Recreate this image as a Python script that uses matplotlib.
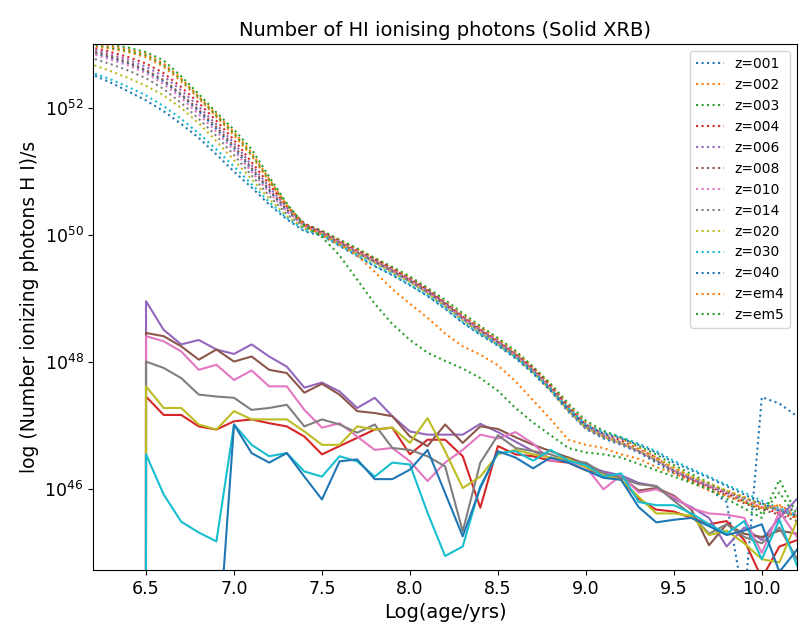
import numpy as np
import matplotlib
matplotlib.use("Agg")
import matplotlib.pyplot as plt
from matplotlib.ticker import NullLocator

# ---------------- data (log10 of photon rate) ----------------
labels = ["z=001", "z=002", "z=003", "z=004", "z=006", "z=008", "z=010",
          "z=014", "z=020", "z=030", "z=040", "z=em4", "z=em5"]

# stellar ages for the dotted curves: log(age) 6.0 ... 10.2
age_star = [6.0, 6.1, 6.2, 6.3, 6.4, 6.5, 6.6, 6.7, 6.8, 6.9, 7.0, 7.1, 7.2, 7.3, 7.4,
            7.5, 7.6, 7.7, 7.8, 7.9, 8.0, 8.1, 8.2, 8.3, 8.4, 8.5, 8.6, 8.7, 8.8, 8.9,
            9.0, 9.1, 9.2, 9.3, 9.4, 9.5, 9.6, 9.7, 9.8, 9.9, 10.0, 10.1, 10.2]

star_001 = [53.02, 52.95, 52.87, 52.79, 52.7, 52.58, 52.42, 52.2, 51.95, 51.67, 51.37, 51.03, 50.7, 50.38, 50.15,
            50.04, 49.88, 49.72, 49.58, 49.43, 49.27, 49.1, 48.9, 48.68, 48.48, 48.3, 48.08, 47.82, 47.55, 47.22,
            46.95, 46.8, 46.7, 46.58, 46.42, 46.25, 46.12, 46.0, 45.8, 44.2, 47.45, 47.35, 47.15]
star_002 = [53.1, 53.05, 52.98, 52.93, 52.88, 52.8, 52.65, 52.42, 52.15, 51.86, 51.57, 51.25, 50.85, 50.46, 50.17,
            50.06, 49.92, 49.78, 49.63, 49.48, 49.33, 49.15, 48.95, 48.74, 48.55, 48.36, 48.16, 47.92, 47.64, 47.32,
            47.05, 46.9, 46.8, 46.66, 46.5, 46.34, 46.2, 46.08, 45.98, 45.88, 45.7, 45.75, 45.6]
star_003 = [53.12, 53.07, 53.0, 52.95, 52.9, 52.83, 52.68, 52.45, 52.17, 51.88, 51.6, 51.27, 50.87, 50.47, 50.18,
            50.07, 49.93, 49.79, 49.64, 49.5, 49.35, 49.17, 48.98, 48.77, 48.57, 48.38, 48.18, 47.93, 47.66, 47.35,
            47.08, 46.92, 46.82, 46.68, 46.55, 46.38, 46.24, 46.1, 45.96, 45.82, 45.62, 45.95, 45.55]
star_004 = [53.1, 53.02, 52.95, 52.88, 52.8, 52.7, 52.55, 52.33, 52.08, 51.8, 51.5, 51.15, 50.8, 50.45, 50.18,
            50.05, 49.9, 49.76, 49.62, 49.47, 49.31, 49.14, 48.93, 48.72, 48.52, 48.33, 48.13, 47.9, 47.62, 47.3,
            47.02, 46.87, 46.77, 46.63, 46.5, 46.3, 46.16, 46.04, 45.93, 45.8, 45.72, 45.62, 45.55]
star_006 = [53.08, 53.0, 52.92, 52.84, 52.76, 52.65, 52.5, 52.28, 52.02, 51.74, 51.45, 51.1, 50.76, 50.43, 50.17,
            50.04, 49.89, 49.74, 49.6, 49.45, 49.3, 49.13, 48.93, 48.71, 48.51, 48.33, 48.12, 47.88, 47.6, 47.28,
            47.0, 46.86, 46.74, 46.6, 46.46, 46.28, 46.16, 46.05, 45.94, 45.86, 45.78, 45.68, 45.7]
star_008 = [53.05, 52.97, 52.89, 52.81, 52.72, 52.6, 52.44, 52.22, 51.97, 51.7, 51.4, 51.06, 50.72, 50.4, 50.16,
            50.03, 49.88, 49.73, 49.59, 49.44, 49.29, 49.12, 48.92, 48.7, 48.5, 48.32, 48.12, 47.87, 47.58, 47.26,
            46.98, 46.84, 46.73, 46.6, 46.45, 46.28, 46.15, 46.03, 45.9, 45.78, 45.68, 45.6, 45.5]
star_010 = [53.0, 52.93, 52.85, 52.76, 52.67, 52.55, 52.38, 52.16, 51.9, 51.63, 51.33, 51.0, 50.67, 50.37, 50.14,
            50.03, 49.88, 49.73, 49.58, 49.43, 49.28, 49.1, 48.9, 48.69, 48.49, 48.31, 48.1, 47.86, 47.57, 47.25,
            46.97, 46.83, 46.72, 46.6, 46.46, 46.3, 46.18, 46.06, 45.96, 45.84, 45.72, 45.68, 45.62]
star_014 = [52.95, 52.87, 52.78, 52.69, 52.59, 52.47, 52.3, 52.08, 51.83, 51.56, 51.26, 50.94, 50.62, 50.33, 50.12,
            50.02, 49.87, 49.72, 49.57, 49.42, 49.27, 49.09, 48.89, 48.68, 48.48, 48.3, 48.1, 47.85, 47.56, 47.24,
            46.96, 46.82, 46.72, 46.6, 46.45, 46.3, 46.18, 46.07, 45.95, 45.86, 45.76, 45.66, 45.58]
star_020 = [52.88, 52.78, 52.68, 52.58, 52.47, 52.35, 52.2, 52.0, 51.76, 51.48, 51.18, 50.88, 50.57, 50.3, 50.1,
            50.02, 49.86, 49.71, 49.56, 49.41, 49.26, 49.08, 48.88, 48.66, 48.46, 48.28, 48.08, 47.84, 47.56, 47.24,
            46.97, 46.83, 46.73, 46.62, 46.48, 46.33, 46.2, 46.1, 45.98, 45.87, 45.77, 45.66, 45.55]
star_030 = [52.72, 52.63, 52.55, 52.45, 52.33, 52.2, 52.03, 51.83, 51.6, 51.35, 51.08, 50.8, 50.52, 50.27, 50.08,
            50.0, 49.84, 49.68, 49.52, 49.38, 49.22, 49.05, 48.85, 48.63, 48.44, 48.27, 48.08, 47.85, 47.58, 47.28,
            47.02, 46.9, 46.82, 46.72, 46.6, 46.45, 46.32, 46.2, 46.07, 45.95, 45.82, 45.7, 45.6]
star_040 = [52.68, 52.6, 52.52, 52.4, 52.26, 52.12, 51.95, 51.75, 51.53, 51.27, 51.0, 50.75, 50.48, 50.25, 50.06,
            49.99, 49.83, 49.67, 49.51, 49.37, 49.21, 49.04, 48.84, 48.62, 48.43, 48.26, 48.06, 47.83, 47.56, 47.26,
            47.0, 46.88, 46.8, 46.7, 46.58, 46.42, 46.3, 46.18, 46.05, 45.92, 45.78, 45.66, 45.58]
star_em4 = [53.15, 53.1, 53.02, 52.97, 52.92, 52.85, 52.7, 52.46, 52.18, 51.9, 51.62, 51.3, 50.88, 50.47, 50.15,
            50.0, 49.85, 49.68, 49.42, 49.15, 48.92, 48.7, 48.45, 48.25, 48.12, 47.95, 47.7, 47.4, 47.1, 46.78,
            46.7, 46.65, 46.55, 46.48, 46.35, 46.25, 46.12, 45.98, 45.9, 45.8, 45.7, 45.75, 45.55]
star_em5 = [53.2, 53.12, 53.05, 53.0, 52.95, 52.88, 52.75, 52.5, 52.22, 51.93, 51.66, 51.35, 50.92, 50.5, 50.15,
            49.97, 49.68, 49.3, 48.92, 48.6, 48.35, 48.15, 48.02, 47.9, 47.75, 47.55, 47.28, 47.05, 46.85, 46.65,
            46.58, 46.55, 46.5, 46.4, 46.3, 46.2, 46.1, 46.0, 45.85, 45.7, 45.55, 46.15, 45.6]

star_series = [star_001, star_002, star_003, star_004, star_006, star_008, star_010,
               star_014, star_020, star_030, star_040, star_em4, star_em5]

# XRB contribution (solid): log(age) 6.4 ... 10.2 ; None = zero
age_xrb = [6.4, 6.5, 6.6, 6.7, 6.8, 6.9, 7.0, 7.1, 7.2, 7.3, 7.4, 7.5, 7.6, 7.7, 7.8, 7.9,
           8.0, 8.1, 8.2, 8.3, 8.4, 8.5, 8.6, 8.7, 8.8, 8.9, 9.0, 9.1, 9.2, 9.3, 9.4, 9.5,
           9.6, 9.7, 9.8, 9.9, 10.0, 10.1, 10.2]

xrb_004 = [None, 47.46, 47.17, 47.17, 46.99, 46.94, 47.07, 47.10, 47.04, 46.99, 46.83, 46.55, 46.68, 46.81, 46.94, 46.97,
           46.55, 46.78, 46.78, 46.52, 45.71, 46.68, 46.55, 46.52, 46.45, 46.42, 46.3, 46.25, 46.15, 45.85, 45.68, 45.65,
           45.55, 45.45, 45.5, 45.2, 44.6, 45.1, 45.2]
xrb_006 = [None, 48.96, 48.51, 48.28, 48.35, 48.20, 48.13, 48.28, 48.09, 47.93, 47.60, 47.68, 47.54, 47.28, 47.44, 47.15,
           46.91, 46.86, 46.86, 46.86, 47.03, 46.9, 46.75, 46.6, 46.48, 46.5, 46.38, 46.28, 46.22, 46.1, 46.05, 45.85,
           45.72, 45.55, 45.1, 45.4, 45.2, 45.55, 45.85]
xrb_008 = [None, 48.46, 48.41, 48.25, 48.04, 48.20, 48.01, 48.09, 47.88, 47.83, 47.52, 47.66, 47.49, 47.23, 47.20, 47.15,
           46.83, 46.68, 47.02, 46.73, 46.99, 46.95, 46.82, 46.7, 46.6, 46.5, 46.4, 46.2, 46.2, 45.98, 46.02, 45.9,
           45.68, 45.12, 45.45, 45.3, 45.25, 45.35, 45.3]
xrb_010 = [None, 48.41, 48.33, 48.17, 47.88, 47.96, 47.72, 47.87, 47.62, 47.62, 47.25, 46.97, 47.04, 46.83, 46.62, 46.65,
           46.44, 46.13, 46.42, 46.62, 46.86, 46.8, 46.9, 46.72, 46.45, 46.45, 46.35, 46.0, 46.22, 45.95, 46.0, 45.88,
           45.7, 45.62, 45.6, 45.55, 45.0, 45.65, 45.25]
xrb_014 = [None, 48.01, 47.91, 47.75, 47.49, 47.46, 47.44, 47.25, 47.28, 47.33, 46.99, 47.10, 47.02, 46.89, 47.02, 46.65,
           46.62, 46.52, 46.36, 45.34, 46.42, 46.85, 46.65, 46.6, 46.55, 46.45, 46.42, 46.25, 46.18, 46.08, 46.05, 45.82,
           45.6, 45.3, 45.45, 45.25, 45.15, 45.4, 44.9]
xrb_020 = [None, 47.62, 47.28, 47.28, 47.02, 46.94, 47.23, 47.10, 47.10, 47.10, 46.91, 46.70, 46.70, 46.99, 46.94, 46.97,
           46.73, 47.12, 46.60, 46.02, 46.20, 46.55, 46.62, 46.55, 46.5, 46.48, 46.35, 46.22, 46.15, 45.88, 45.62, 45.62,
           45.58, 45.28, 45.35, 45.15, 44.9, 44.85, 45.5]
xrb_030 = [None, 46.55, 45.92, 45.49, 45.32, 45.18, 47.02, 46.70, 46.52, 46.57, 46.28, 46.20, 46.52, 46.44, 46.20, 46.42,
           46.39, 45.63, 44.95, 45.10, 46.05, 46.57, 46.6, 46.45, 46.62, 46.45, 46.38, 46.2, 46.25, 45.8, 45.75, 45.75,
           45.62, 45.45, 45.3, 45.5, 44.9, 45.52, 44.8]
xrb_040 = [None, None, None, None, None, 43.07, 47.02, 46.57, 46.42, 46.57, 46.20, 45.84, 46.44, 46.47, 46.16, 46.16,
           46.31, 46.62, 45.94, 45.26, 46.02, 46.6, 46.5, 46.33, 46.5, 46.42, 46.3, 46.18, 46.15, 45.72, 45.48, 45.52,
           45.55, 45.42, 45.28, 45.35, 45.45, 44.7, 45.05]

xrb_series = [xrb_004, xrb_006, xrb_008, xrb_010, xrb_014, xrb_020, xrb_030, xrb_040]
xrb_colors = ["C3", "C4", "C5", "C6", "C7", "C8", "C9", "C0"]


def to_linear(logs):
    return np.array([0.0 if v is None else 10.0 ** v for v in logs])


# ---------------- plot ----------------
fig = plt.figure(figsize=(7.99, 6.32), dpi=100)
ax = fig.add_axes([0.1167, 0.0981, 0.8808, 0.8315])

for i, (lab, s) in enumerate(zip(labels, star_series)):
    ax.plot(age_star, to_linear(s), linestyle=":", color=f"C{i % 10}", label=lab)

for s, c in zip(xrb_series, xrb_colors):
    ax.plot(age_xrb, to_linear(s), linestyle="-", color=c)

ax.set_yscale("log")
ax.set_xlim(6.2, 10.2)
ax.set_ylim(10 ** 44.73, 1e53)
ax.set_yticks([1e46, 1e48, 1e50, 1e52])
ax.yaxis.set_minor_locator(NullLocator())
ax.set_xticks([6.5, 7.0, 7.5, 8.0, 8.5, 9.0, 9.5, 10.0])
ax.tick_params(axis="both", labelsize=12.5)

ax.set_title("Number of HI ionising photons (Solid XRB)", fontsize=14)
ax.set_xlabel("Log(age/yrs)", fontsize=14)
ax.set_ylabel("log (Number ionizing photons H I)/s", fontsize=13.5)
ax.legend(loc="upper right", fontsize=10)

fig.savefig("out.png", dpi=100)
